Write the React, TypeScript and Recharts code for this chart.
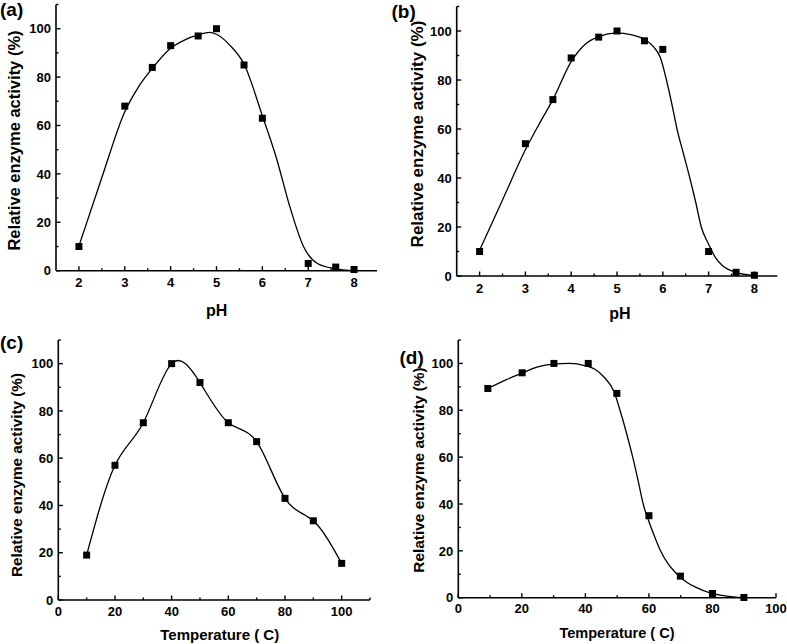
import React from 'react';
import { ScatterChart, Scatter, XAxis, YAxis } from 'recharts';

const FONT = '"Liberation Sans", Arial, Helvetica, sans-serif';

// ---- Panel (a): pH, first enzyme ----
const phA = [2, 3, 3.6, 4, 4.6, 5, 5.6, 6, 7, 7.6, 8];
const actA = [10, 68, 84, 93, 97, 100, 85, 63, 3, 1.5, 0.5];
const fitAx = [2, 2.5, 3, 3.3, 3.6, 4, 4.3, 4.6, 4.85, 5, 5.3, 5.6, 6, 6.3, 6.6, 6.9, 7.2, 7.6, 8];
const fitAy = [10.2, 38.5, 65.7, 76, 83.6, 91.9, 95.3, 97.4, 98.5, 97.7, 93, 85.4, 64, 47, 26.4, 9.9, 3, 0.8, 0];

// ---- Panel (b): pH, second enzyme ----
const phB = [2, 3, 3.6, 4, 4.6, 5, 5.6, 6, 7, 7.6, 8];
const actB = [10, 54, 72, 89, 97.5, 100, 96, 92.5, 10, 1.5, 0.3];
const fitBx = [2, 2.5, 3, 3.3, 3.6, 4, 4.3, 4.6, 5, 5.3, 5.6, 5.8, 5.95, 6.08, 6.2, 6.31, 6.45, 6.59, 6.72, 6.84, 7, 7.15, 7.3, 7.6, 8];
const fitBy = [10.5, 31, 51.5, 62, 72, 87.5, 94.5, 97.7, 99.2, 98.5, 96.6, 93.5, 89, 80, 70, 60, 50, 40, 30, 20, 13, 7.5, 4.3, 1.5, 0.2];

// ---- Panel (c): temperature, first enzyme ----
const tempC = [10, 20, 30, 40, 50, 60, 70, 80, 90, 100];
const actC = [19, 57, 75, 100, 92, 75, 67, 43, 33.5, 15.5];

// ---- Panel (d): temperature, second enzyme ----
const tempD = [9.3, 20.1, 30.1, 40.9, 49.9, 60, 69.9, 80, 89.9];
const actD = [89.3, 96, 100, 100, 87.2, 35, 9.2, 1.8, 0.1];
const fitDx = [9.3, 15, 20, 25, 30, 35, 40, 43, 46, 49, 50.9, 53, 54.9, 56.6, 58.2, 60, 61.8, 63.5, 66, 68.9, 72, 75, 79, 84, 90];
const fitDy = [89.3, 93, 95.8, 98.5, 99.7, 100, 99, 97.5, 94, 88, 80, 70, 60, 50, 40, 32.5, 26, 20.5, 14.5, 10, 6.5, 4.3, 2.2, 0.8, 0];

// ---- Tick labels ----
const yTicks = [0, 10, 20, 30, 40, 50, 60, 70, 80, 90, 100, 110];
const yMajors = [0, 20, 40, 60, 80, 100];
const phTicks = [2, 2.5, 3, 3.5, 4, 4.5, 5, 5.5, 6, 6.5, 7, 7.5, 8];
const phMajors = [2, 3, 4, 5, 6, 7, 8];
const tempTicksC = [0, 10, 20, 30, 40, 50, 60, 70, 80, 90, 100, 110];
const tempTicksD = [0, 10, 20, 30, 40, 50, 60, 70, 80, 90, 100];
const tempMajors = [0, 20, 40, 60, 80, 100];

const toPts = (xs: number[], ys: number[]) => xs.map((x, i) => ({ x, y: ys[i] }));

const Square = (props: any) => {
  const { cx, cy } = props;
  if (cx == null || cy == null) return <g />;
  return <rect x={cx - 3.5} y={cy - 3.5} width={7} height={7} fill="#000" />;
};

const Empty = () => <g />;

const makeXTick = (majors: number[], off: number) => (props: any) => {
  const { x, y, payload } = props;
  const v = payload.value;
  const major = majors.includes(v);
  return (
    <g>
      <line x1={x} x2={x} y1={y} y2={y - (major ? 4.5 : 2.5)} stroke="#000" strokeWidth={1.4} />
      {major && (
        <text x={x} y={y + off} textAnchor="middle" fontSize={13} fontWeight="bold" fontFamily={FONT} fill="#000">
          {v}
        </text>
      )}
    </g>
  );
};

const yTick = (props: any) => {
  const { x, y, payload } = props;
  const v = payload.value;
  const major = yMajors.includes(v);
  return (
    <g>
      <line x1={x} x2={x + (major ? 4.5 : 2.5)} y1={y} y2={y} stroke="#000" strokeWidth={1.4} />
      {major && (
        <text x={x - 5} y={y + 4.7} textAnchor="end" fontSize={13} fontWeight="bold" fontFamily={FONT} fill="#000">
          {v}
        </text>
      )}
    </g>
  );
};

type PanelProps = {
  left: number;
  top: number;
  width: number;
  height: number;
  margin: { top: number; right: number; bottom: number; left: number };
  xDomain: [number, number];
  xTicks: number[];
  xMajors: number[];
  xOff: number;
  fit: { x: number; y: number }[];
  pts: { x: number; y: number }[];
  joint: any;
};

function Panel(p: PanelProps) {
  // axis boxes are 1px; subtract them from the given plot-edge margins
  const m = { top: p.margin.top, right: p.margin.right, bottom: p.margin.bottom - 1, left: p.margin.left - 1 };
  return (
    <div style={{ position: 'absolute', left: p.left, top: p.top, width: p.width, height: p.height }}>
      <ScatterChart width={p.width} height={p.height} margin={m}>
        <XAxis
          type="number"
          dataKey="x"
          domain={p.xDomain}
          ticks={p.xTicks}
          interval={0}
          height={1}
          tickSize={0}
          tickMargin={0}
          tickLine={false}
          axisLine={{ stroke: '#000', strokeWidth: 1.6 }}
          tick={makeXTick(p.xMajors, p.xOff)}
        />
        <YAxis
          type="number"
          dataKey="y"
          domain={[0, 110]}
          ticks={yTicks}
          interval={0}
          width={1}
          tickSize={0}
          tickMargin={0}
          tickLine={false}
          axisLine={{ stroke: '#000', strokeWidth: 1.6 }}
          tick={yTick}
        />
        <Scatter
          data={p.fit}
          fill="#000"
          line={{ stroke: '#000', strokeWidth: 1.3 }}
          lineJointType={p.joint}
          shape={Empty}
          isAnimationActive={false}
        />
        <Scatter data={p.pts} fill="#000" shape={Square} isAnimationActive={false} />
      </ScatterChart>
    </div>
  );
}

const titleStyle = { fontFamily: FONT, fontWeight: 'bold' as const, fill: '#000' };

export default function App() {
  return (
    <div style={{ position: 'absolute', left: 0, top: 0, width: 787, height: 644, background: '#fff', overflow: 'hidden' }}>
      <Panel
        left={0}
        top={0}
        width={390}
        height={320}
        margin={{ top: 4.5, right: 13, bottom: 49.3, left: 56 }}
        xDomain={[1.5, 8.5]}
        xTicks={phTicks}
        xMajors={phMajors}
        xOff={16.5}
        fit={toPts(fitAx, fitAy)}
        pts={toPts(phA, actA)}
        joint="monotoneX"
      />
      <Panel
        left={390}
        top={0}
        width={397}
        height={320}
        margin={{ top: 6.5, right: 9.7, bottom: 44, left: 66.7 }}
        xDomain={[1.5, 8.5]}
        xTicks={phTicks}
        xMajors={phMajors}
        xOff={16.5}
        fit={toPts(fitBx, fitBy)}
        pts={toPts(phB, actB)}
        joint="monotoneX"
      />
      <Panel
        left={0}
        top={320}
        width={390}
        height={324}
        margin={{ top: 20, right: 20, bottom: 44, left: 58.3 }}
        xDomain={[0, 110]}
        xTicks={tempTicksC}
        xMajors={tempMajors}
        xOff={15.5}
        fit={toPts(tempC, actC)}
        pts={toPts(tempC, actC)}
        joint="natural"
      />
      <Panel
        left={390}
        top={320}
        width={397}
        height={324}
        margin={{ top: 20, right: 11, bottom: 46.3, left: 68.3 }}
        xDomain={[0, 100]}
        xTicks={tempTicksD}
        xMajors={tempMajors}
        xOff={15.5}
        fit={toPts(fitDx, fitDy)}
        pts={toPts(tempD, actD)}
        joint="monotoneX"
      />
      <svg width={787} height={644} style={{ position: 'absolute', left: 0, top: 0, pointerEvents: 'none' }}>
        <text x={0} y={16} fontSize={19} {...titleStyle}>(a)</text>
        <text x={391.5} y={17.5} fontSize={19} {...titleStyle}>(b)</text>
        <text x={0} y={348.5} fontSize={19} {...titleStyle}>(c)</text>
        <text x={399.5} y={363.5} fontSize={19} {...titleStyle}>(d)</text>

        <text transform="translate(19.5,140.5) rotate(-90)" textAnchor="middle" fontSize={16.5} {...titleStyle}>
          Relative enzyme activity (%)
        </text>
        <text transform="translate(423,134) rotate(-90)" textAnchor="middle" fontSize={17} {...titleStyle}>
          Relative enzyme activity (%)
        </text>
        <text transform="translate(21.5,475) rotate(-90)" textAnchor="middle" fontSize={15.3} {...titleStyle}>
          Relative enzyme activity (%)
        </text>
        <text transform="translate(424,470) rotate(-90)" textAnchor="middle" fontSize={15.4} {...titleStyle}>
          Relative enzyme activity (%)
        </text>

        <text x={216.7} y={315.5} textAnchor="middle" fontSize={16} {...titleStyle}>pH</text>
        <text x={620} y={319} textAnchor="middle" fontSize={16} {...titleStyle}>pH</text>
        <text x={219.7} y={639.5} textAnchor="middle" fontSize={15} {...titleStyle}>Temperature ( C)</text>
        <text x={617} y={637.5} textAnchor="middle" fontSize={14.5} {...titleStyle}>Temperature ( C)</text>
      </svg>
    </div>
  );
}
